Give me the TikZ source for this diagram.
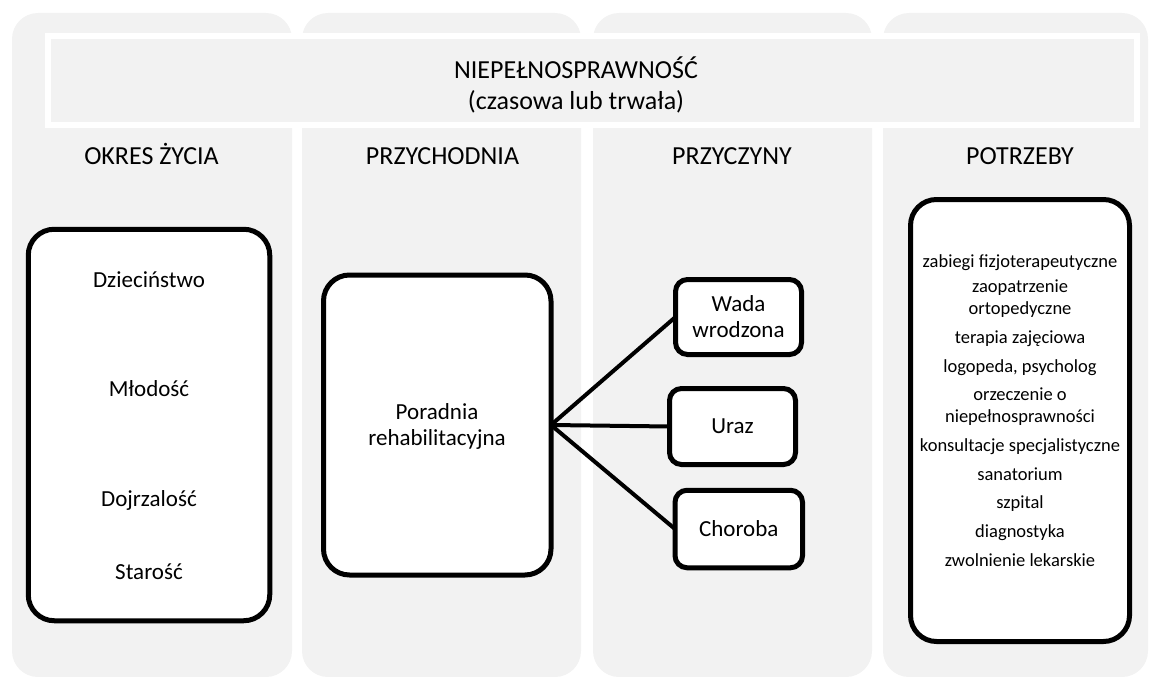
\documentclass[tikz,border=0pt]{standalone}
\usepackage{fontspec}
\setmainfont{Carlito}
\definecolor{colgray}{RGB}{242,242,242}
\begin{document}
\begin{tikzpicture}[x=1pt,y=-1pt,
  col/.style={fill=colgray, draw=none, rounded corners=26pt},
  box/.style={draw=black, line width=5pt, fill=white, rounded corners=26pt, inner sep=0pt, outer sep=0pt},
  sbox/.style={draw=black, line width=5pt, fill=white, rounded corners=12pt, inner sep=0pt, outer sep=0pt},
  conn/.style={line width=4pt, draw=black},
  head/.style={font=\fontsize{26}{31}\selectfont, anchor=base, inner sep=0pt},
  btext/.style={font=\fontsize{23}{27}\selectfont, anchor=base, inner sep=0pt},
  ptext/.style={font=\fontsize{18.5}{22}\selectfont, anchor=base, inner sep=0pt},
]
\useasboundingbox (0,0) rectangle (1151,677);
\clip (0,0) rectangle (1151,677);
% columns
\fill[col] (12,13) rectangle (292,677);
\fill[col] (302,13) rectangle (581,677);
\fill[col] (593,13) rectangle (872,677);
\fill[col] (883,13) rectangle (1148,677);
% banner
\node[draw=white, line width=6pt, fill=colgray, minimum width=1089pt, minimum height=89pt, inner sep=0pt] (banner) at (592.5,80.5) {};
\node[head] (title) at (576,78) {NIEPEŁNOSPRAWNOŚĆ};
\node[head] (subtitle) at (576,109) {(czasowa lub trwała)};
% headings
\node[head] (h1) at (151.5,164) {OKRES ŻYCIA};
\node[head] (h2) at (442.5,164) {PRZYCHODNIA};
\node[head] (h3) at (732,164) {PRZYCZYNY};
\node[head] (h4) at (1020,164) {POTRZEBY};
% box 1
\node[box, minimum width=241.5pt, minimum height=391.5pt] (okres) at (149,425) {};
\node[btext] (t11) at (149,287) {Dzieciństwo};
\node[btext] (t12) at (149,396) {Młodość};
\node[btext] (t13) at (149,506) {Dojrzalość};
\node[btext] (t14) at (149,579) {Starość};
% box 2
\node[box, minimum width=227.5pt, minimum height=300pt] (poradnia) at (437.25,425) {};
\node[btext] (t21) at (437,419) {Poradnia};
\node[btext] (t22) at (437,445) {rehabilitacyjna};
% small boxes
\node[sbox, minimum width=126pt, minimum height=75pt] (wada) at (738.5,317) {};
\node[btext] (t31) at (738.5,311) {Wada};
\node[btext] (t32) at (738.5,337) {wrodzona};
\node[sbox, minimum width=126pt, minimum height=76pt] (uraz) at (732.5,426.5) {};
\node[btext] (t33) at (732.5,433) {Uraz};
\node[sbox, minimum width=127.5pt, minimum height=77.5pt] (choroba) at (738.75,529) {};
\node[btext] (t34) at (738.75,536) {Choroba};
% connectors
\draw[conn] (poradnia.east) -- (wada.west);
\draw[conn] (poradnia.east) -- (uraz.west);
\draw[conn] (poradnia.east) -- (choroba.west);
% box 4
\node[box, minimum width=219pt, minimum height=442pt] (potrzeby) at (1020,420.5) {};
\node[ptext] (p1) at (1020,267) {zabiegi fizjoterapeutyczne};
\node[ptext] (p2) at (1020,292) {zaopatrzenie};
\node[ptext] (p3) at (1020,314) {ortopedyczne};
\node[ptext] (p4) at (1020,343) {terapia zajęciowa};
\node[ptext] (p5) at (1020,372) {logopeda, psycholog};
\node[ptext] (p6) at (1020,400) {orzeczenie o};
\node[ptext] (p7) at (1020,422) {niepełnosprawności};
\node[ptext] (p8) at (1020,451) {konsultacje specjalistyczne};
\node[ptext] (p9) at (1020,480) {sanatorium};
\node[ptext] (p10) at (1020,508) {szpital};
\node[ptext] (p11) at (1020,537) {diagnostyka};
\node[ptext] (p12) at (1020,566) {zwolnienie lekarskie};
\end{tikzpicture}
\end{document}
